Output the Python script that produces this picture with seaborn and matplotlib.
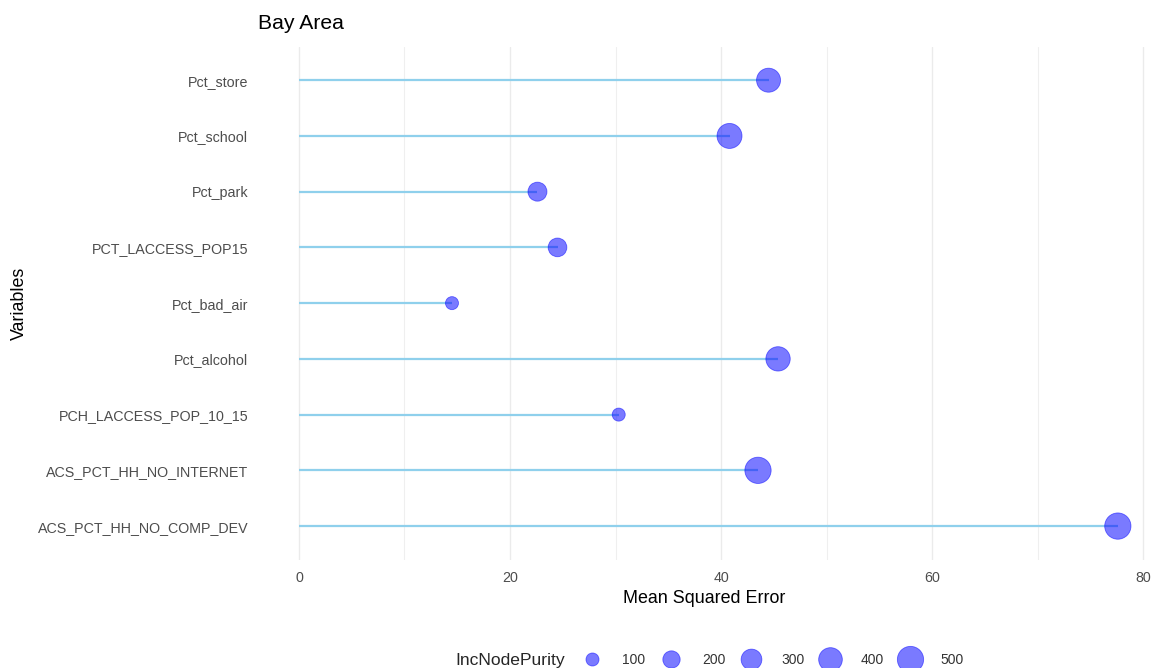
import pandas as pd
import matplotlib.pyplot as plt
import seaborn as sns
from matplotlib.lines import Line2D
from matplotlib.ticker import MultipleLocator

# Variable importance, Bay Area random forest
variables = ['Pct_store', 'Pct_school', 'Pct_park', 'PCT_LACCESS_POP15',
             'Pct_bad_air', 'Pct_alcohol', 'PCH_LACCESS_POP_10_15',
             'ACS_PCT_HH_NO_INTERNET', 'ACS_PCT_HH_NO_COMP_DEV']
mse = [44.5, 40.8, 22.6, 24.5, 14.5, 45.4, 30.3, 43.5, 77.6]
node_purity = [412, 450, 247, 238, 25, 425, 36, 558, 708]
legend_breaks = [100, 200, 300, 400, 500]

# marker area (pt^2) at the ends of the legend range
SIZE_NORM = (100, 500)
SIZE_RANGE = (88, 358)


def marker_area(v):
    lo, hi = SIZE_NORM
    return SIZE_RANGE[0] + (v - lo) / (hi - lo) * (SIZE_RANGE[1] - SIZE_RANGE[0])


df = pd.DataFrame({'variable': variables, 'mse': mse, 'purity': node_purity})

sns.set_theme(style='white')
plt.rcParams['font.family'] = ['Liberation Sans', 'DejaVu Sans']

fig = plt.figure(figsize=(11.51, 6.68), dpi=100)
ax = fig.add_axes([0.224, 0.1624, 0.7756, 0.7676])

ax.hlines(y=df['variable'], xmin=0, xmax=df['mse'], color='#8fd0ec', lw=1.6, zorder=2)
sns.scatterplot(data=df, x='mse', y='variable', size='purity',
                size_norm=SIZE_NORM, sizes=SIZE_RANGE, color='blue', alpha=0.52,
                edgecolor='blue', linewidth=0.6, legend=False, ax=ax, zorder=3)

ax.set_xlim(-3.9, 80.7)
ax.set_ylim(8.6, -0.6)
ax.xaxis.set_major_locator(MultipleLocator(20))
ax.xaxis.set_minor_locator(MultipleLocator(10))
ax.grid(True, axis='x', which='major', color='#ebebeb', lw=1.0, zorder=0)
ax.grid(True, axis='x', which='minor', color='#efefef', lw=0.8, zorder=0)
ax.grid(False, axis='y')
ax.set_axisbelow(True)
for s in ax.spines.values():
    s.set_visible(False)

ax.tick_params(axis='x', which='both', length=0, pad=8, labelsize=10.3, labelcolor='#4d4d4d')
ax.tick_params(axis='y', length=0, pad=7, labelsize=10.3, labelcolor='#4d4d4d')
ax.set_xlabel('Mean Squared Error', fontsize=12.9, color='black', labelpad=4)
ax.set_ylabel('Variables', fontsize=12.9, color='black', labelpad=7)
ax.set_title('Bay Area', fontsize=15.2, loc='left', pad=13, color='black')

# size legend along the bottom
handles = [Line2D([], [], ls='none', marker='o', markersize=marker_area(v) ** 0.5,
                  markerfacecolor='blue', markeredgecolor='blue', markeredgewidth=0.6,
                  alpha=0.52) for v in legend_breaks]
fig.text(455 / 1151, 1 - 660 / 668, 'IncNodePurity', fontsize=12.6, ha='left', va='center')
fig.legend(handles, [str(v) for v in legend_breaks], loc='center left',
           bbox_to_anchor=(578 / 1151, 1 - 660 / 668), ncol=5, frameon=False,
           fontsize=10, handlelength=2.0, handletextpad=1.2, columnspacing=0.85,
           borderpad=0, borderaxespad=0, labelcolor='#333333')

fig.savefig('out.png', dpi=100)
